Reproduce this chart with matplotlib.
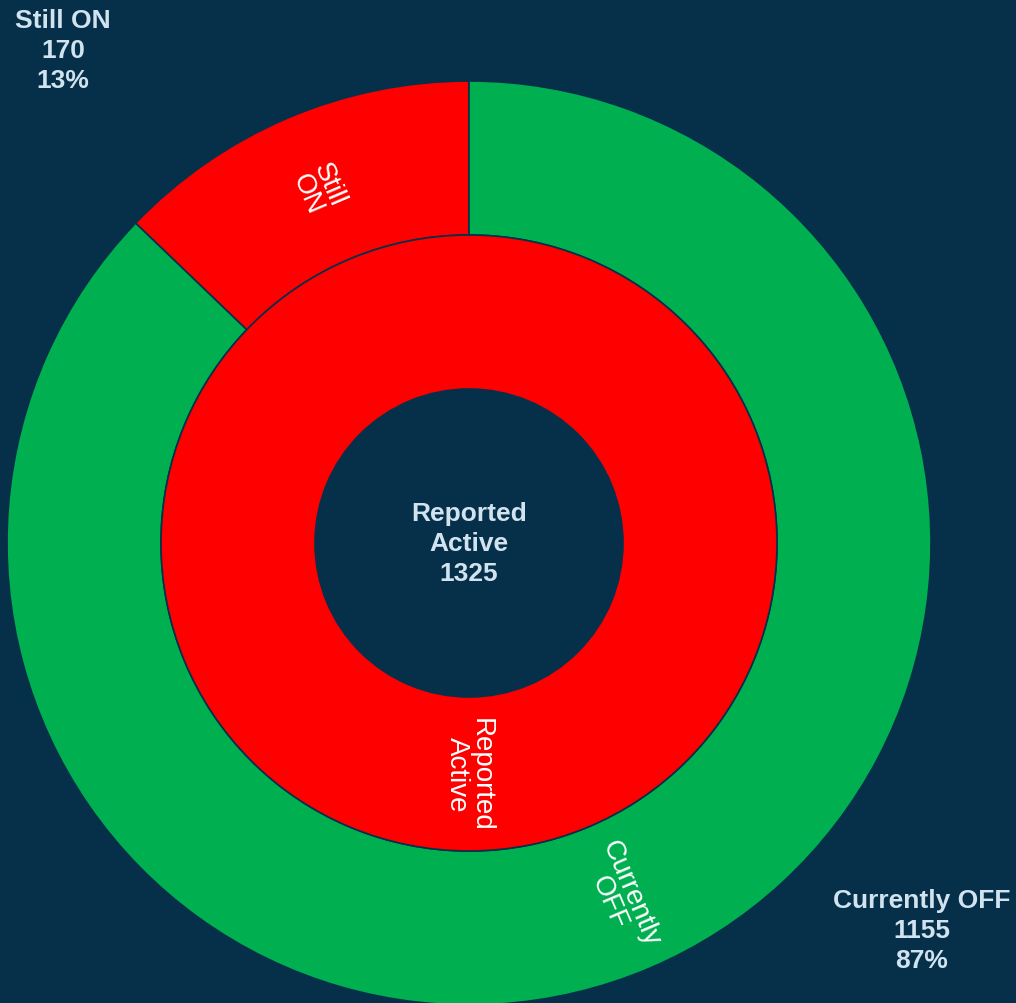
import numpy as np
import matplotlib
matplotlib.use("Agg")
import matplotlib.pyplot as plt

# data
inner_labels = ["Reported Active"]
inner_values = [1325]
outer_labels = ["Still ON", "Currently OFF"]
outer_values = [170, 1155]
outer_colors = ["#ff0000", "#00b050"]
inner_colors = ["#ff0000"]

BG = "#06304a"
LABEL_C = "#d0e3ef"

plt.rcParams['font.family'] = ['Liberation Sans', 'DejaVu Sans']

fig = plt.figure(figsize=(10.16, 10.04), dpi=100, facecolor=BG)
ax = fig.add_axes([0, 0, 1, 1])
ax.set_facecolor(BG)

# pixel geometry of the reference: centre (469, 544), outer radius 462
cx, cy, R = 469, 544, 462

wp = dict(width=1 / 3, edgecolor=BG, linewidth=1.2)
outer, _ = ax.pie(outer_values, radius=1.0, colors=outer_colors, startangle=90,
                  counterclock=True, wedgeprops=wp)
inner, _ = ax.pie(inner_values, radius=2 / 3, colors=inner_colors, startangle=90,
                  counterclock=True, wedgeprops=wp)
ax.set_xlim(-cx / R, (1016 - cx) / R)
ax.set_ylim(-(1004 - cy) / R, cy / R)
ax.set_aspect("auto")
ax.axis("off")


def wedge_text(w, label, r):
    mid = (w.theta1 + w.theta2) / 2.0
    a = (mid + 180) % 360 - 180
    rot = a if -90 <= a <= 90 else a - 180
    x = r * np.cos(np.radians(mid))
    y = r * np.sin(np.radians(mid))
    ax.text(x, y, label.replace(" ", "\n"), rotation=rot, rotation_mode="anchor",
            ha="center", va="center", color="white", fontsize=20, linespacing=0.9)


for w, lab in zip(outer, outer_labels):
    wedge_text(w, lab, 5 / 6)
for w, lab in zip(inner, inner_labels):
    wedge_text(w, lab, 0.5)

total = sum(inner_values)
ax.text(0, 0, "Reported\nActive\n%d" % total, ha="center", va="center",
        color=LABEL_C, fontsize=19, fontweight="bold", linespacing=1.3)

pos = [(63, 51), (922, 931)]
for (px, py), lab, v in zip(pos, outer_labels, outer_values):
    fig.text(px / 1016, 1 - py / 1004, "%s\n%d\n%d%%" % (lab, v, round(100 * v / total)),
             ha="center", va="center", color=LABEL_C, fontsize=19,
             fontweight="bold", linespacing=1.3)

fig.savefig("out.png", dpi=100, facecolor=BG)
